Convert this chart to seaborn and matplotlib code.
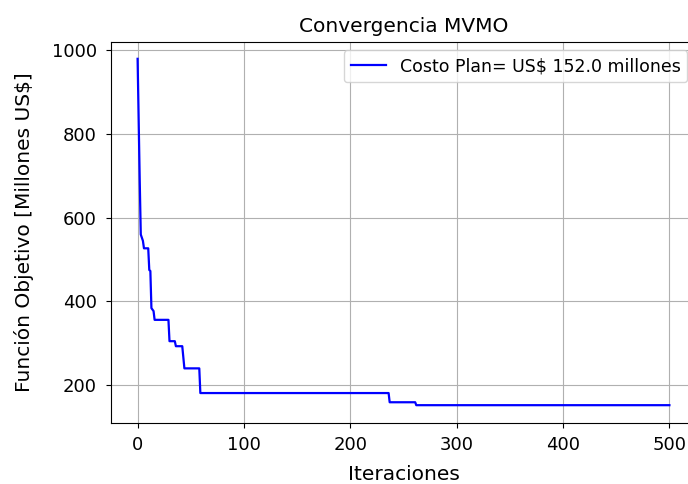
import matplotlib
matplotlib.use("Agg")
import matplotlib.pyplot as plt
import seaborn as sns
import pandas as pd

iteraciones = [0, 1, 2, 3, 5, 6, 10, 11, 12, 13, 15, 16, 29, 30, 35, 36, 42, 44, 58, 59, 236, 237, 261, 262, 500]
costo = [980, 835, 690, 560, 545, 527, 527, 475, 473, 384, 377, 356, 356, 305, 305, 293, 293, 240, 240, 181, 181, 159, 159, 152, 152]
etiqueta = "Costo Plan= US$ 152.0 millones"
titulo = "Convergencia MVMO"

df = pd.DataFrame({"it": iteraciones, "f": costo})

plt.rcParams['font.family'] = ['DejaVu Sans']
fig = plt.figure(figsize=(6.88, 4.84), dpi=100)
ax = fig.add_axes([111 / 688, (484 - 422.5) / 484, 585 / 688, 381 / 484])
sns.lineplot(data=df, x="it", y="f", ax=ax, color="blue", estimator=None, sort=False,
             label=etiqueta, linewidth=1.6)
ax.grid(True, color="#b0b0b0", linewidth=0.8)
ax.set_axisbelow(True)
ax.set_title(titulo, fontsize=14.5, pad=7)
ax.set_xlabel("Iteraciones", fontsize=14.5, labelpad=8)
ax.set_ylabel("Función Objetivo [Millones US$]", fontsize=14.5, labelpad=13)
ax.tick_params(labelsize=13, pad=6.5)
ax.set_xticks([0, 100, 200, 300, 400, 500])
ax.set_yticks([200, 400, 600, 800, 1000])
ax.legend(loc="upper right", fontsize=12.5)
fig.savefig("out.png", dpi=100)
